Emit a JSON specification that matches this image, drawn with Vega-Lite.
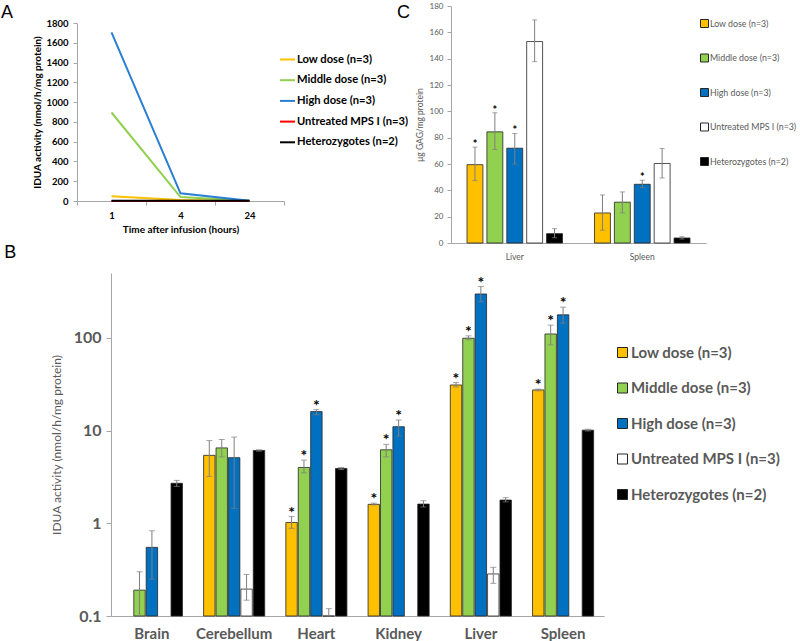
{
  "$schema": "https://vega.github.io/schema/vega-lite/v6.json",
  "padding": {"left": 0, "top": 2, "right": 0, "bottom": 0},
  "background": "white",
  "config": {
    "view": {"stroke": null},
    "axis": {"grid": false, "domainColor": "#A6A6A6", "tickColor": "#A6A6A6", "labelFont": "Lato", "titleFont": "Lato", "labelOverlap": false},
    "legend": {"labelFont": "Lato"},
    "title": {"font": "Liberation Sans", "fontWeight": "normal", "color": "black"}
  },
  "spacing": -17,
  "resolve": {"scale": {"color": "independent", "x": "independent", "y": "independent", "xOffset": "independent"}, "axis": {"x": "independent", "y": "independent"}, "legend": {"color": "independent"}},
  "vconcat": [
    {
      "spacing": -12,
      "resolve": {"scale": {"color": "independent", "x": "independent", "y": "independent", "xOffset": "independent"}, "axis": {"x": "independent", "y": "independent"}, "legend": {"color": "independent"}},
      "hconcat": [
        {
          "width": 207, "height": 195,
          "title": {"text": "A", "orient": "left", "anchor": "end", "frame": "group", "angle": 0, "align": "right", "baseline": "alphabetic", "dy": 12, "offset": 8, "fontSize": 18},
          "data": {"values": [
            {"time": 1, "group": "Low dose (n=3)", "value": 47},
            {"time": 4, "group": "Low dose (n=3)", "value": 10},
            {"time": 24, "group": "Low dose (n=3)", "value": 1},
            {"time": 1, "group": "Middle dose (n=3)", "value": 895},
            {"time": 4, "group": "Middle dose (n=3)", "value": 40},
            {"time": 24, "group": "Middle dose (n=3)", "value": 2},
            {"time": 1, "group": "High dose (n=3)", "value": 1705},
            {"time": 4, "group": "High dose (n=3)", "value": 78},
            {"time": 24, "group": "High dose (n=3)", "value": 2},
            {"time": 1, "group": "Untreated MPS I (n=3)", "value": 0},
            {"time": 4, "group": "Untreated MPS I (n=3)", "value": 0},
            {"time": 24, "group": "Untreated MPS I (n=3)", "value": 0},
            {"time": 1, "group": "Heterozygotes (n=2)", "value": 3},
            {"time": 4, "group": "Heterozygotes (n=2)", "value": 3},
            {"time": 24, "group": "Heterozygotes (n=2)", "value": 3}
          ]},
          "mark": {"type": "line", "strokeWidth": 2},
          "encoding": {
            "x": {"field": "time", "type": "ordinal", "bandPosition": 0.5, "scale": {"type": "band", "paddingInner": 0, "paddingOuter": 0},
              "axis": {"title": "Time after infusion (hours)", "labelAngle": 0, "labelFontWeight": "bold", "labelFontSize": 9.5, "labelColor": "black", "titleFontSize": 10, "titleFontWeight": "bold", "titleColor": "black", "tickBand": "extent", "tickSize": 4, "labelPadding": 5, "titlePadding": 5}},
            "y": {"field": "value", "type": "quantitative", "scale": {"domain": [0, 1800], "range": [195, 17]},
              "axis": {"values": [0, 200, 400, 600, 800, 1000, 1200, 1400, 1600, 1800], "format": "d", "labelOverlap": false, "title": "IDUA activity (nmol/h/mg protein)", "labelFontWeight": "bold", "labelFontSize": 9.5, "labelColor": "black", "titleFontSize": 10, "titleFontWeight": "bold", "titleColor": "black", "tickSize": 4, "labelPadding": 5, "titlePadding": 3}},
            "color": {"field": "group", "type": "nominal",
              "scale": {"domain": ["Low dose (n=3)", "Middle dose (n=3)", "High dose (n=3)", "Untreated MPS I (n=3)", "Heterozygotes (n=2)"], "range": ["#FFC000", "#92D050", "#2A7FD4", "#FF0000", "#000000"]},
              "legend": {"title": null, "orient": "none", "legendX": 202, "legendY": 45, "symbolType": "stroke", "symbolSize": 225, "symbolStrokeWidth": 2, "labelFontSize": 11.2, "labelFontWeight": "bold", "labelColor": "black", "rowPadding": 6.7, "labelOffset": 1, "padding": 0}}
          }
        },
        {
          "width": 255, "height": 237,
          "title": {"text": "C", "orient": "left", "anchor": "end", "frame": "group", "angle": 0, "align": "right", "baseline": "alphabetic", "dy": 12, "offset": -8, "fontSize": 18},
          "data": {"values": [
            {"organ": "Liver", "group": "Low dose (n=3)", "value": 59.5, "lo": 47.4, "hi": 72.8, "star": "*"},
            {"organ": "Liver", "group": "Middle dose (n=3)", "value": 84.4, "lo": 71, "hi": 98.9, "star": "*"},
            {"organ": "Liver", "group": "High dose (n=3)", "value": 72, "lo": 60, "hi": 83.2, "star": "*"},
            {"organ": "Liver", "group": "Untreated MPS I (n=3)", "value": 153, "lo": 137.7, "hi": 169.4, "star": ""},
            {"organ": "Liver", "group": "Heterozygotes (n=2)", "value": 7.1, "lo": 4, "hi": 10.9, "star": ""},
            {"organ": "Spleen", "group": "Low dose (n=3)", "value": 22.8, "lo": 9.7, "hi": 36.5, "star": ""},
            {"organ": "Spleen", "group": "Middle dose (n=3)", "value": 31, "lo": 22.8, "hi": 38.8, "star": ""},
            {"organ": "Spleen", "group": "High dose (n=3)", "value": 44.6, "lo": 42.1, "hi": 47.7, "star": "*"},
            {"organ": "Spleen", "group": "Untreated MPS I (n=3)", "value": 60.4, "lo": 49.4, "hi": 71.8, "star": ""},
            {"organ": "Spleen", "group": "Heterozygotes (n=2)", "value": 3.8, "lo": 3, "hi": 4.8, "star": ""}
          ]},
          "encoding": {
            "x": {"field": "organ", "type": "nominal", "sort": ["Liver", "Spleen"], "scale": {"paddingInner": 0.22, "paddingOuter": 0.11},
              "axis": {"title": null, "labelAngle": 0, "ticks": false, "labelFontSize": 8.5, "labelColor": "#595959", "labelPadding": 9}},
            "xOffset": {"field": "group", "type": "nominal", "sort": ["Low dose (n=3)", "Middle dose (n=3)", "High dose (n=3)", "Untreated MPS I (n=3)", "Heterozygotes (n=2)"], "scale": {"paddingInner": 0.2, "paddingOuter": 0.1}}
          },
          "layer": [
            {
              "mark": {"type": "bar", "stroke": "#262626", "strokeWidth": 0.8},
              "encoding": {
                "y": {"field": "value", "type": "quantitative", "title": "μg GAG/mg protein", "scale": {"domain": [0, 180], "nice": false},
                  "axis": {"values": [0, 20, 40, 60, 80, 100, 120, 140, 160, 180], "labelOverlap": false, "labelFontSize": 8, "labelColor": "#595959", "titleFontSize": 8.5, "titleFontWeight": "normal", "titleColor": "#595959", "tickSize": 4, "labelPadding": 4, "titlePadding": 5}},
                "color": {"field": "group", "type": "nominal",
                  "scale": {"domain": ["Low dose (n=3)", "Middle dose (n=3)", "High dose (n=3)", "Untreated MPS I (n=3)", "Heterozygotes (n=2)"], "range": ["#FFC000", "#92D050", "#0070C0", "#FFFFFF", "#000000"]},
                  "legend": {"title": null, "orient": "none", "legendX": 249, "legendY": 13, "symbolType": "square", "symbolSize": 64, "symbolStrokeColor": "#262626", "symbolStrokeWidth": 1, "symbolOpacity": 1, "labelFontSize": 8.8, "labelColor": "#595959", "rowPadding": 21.5, "labelOffset": 1, "padding": 0}}
              }
            },
            {
              "mark": {"type": "rule", "color": "#7F7F7F", "strokeWidth": 1},
              "encoding": {
                "y": {"field": "lo", "type": "quantitative", "title": "μg GAG/mg protein", "scale": {"domain": [0, 180], "nice": false},
                  "axis": {"values": [0, 20, 40, 60, 80, 100, 120, 140, 160, 180], "labelOverlap": false, "labelFontSize": 8, "labelColor": "#595959", "titleFontSize": 8.5, "titleFontWeight": "normal", "titleColor": "#595959", "tickSize": 4, "labelPadding": 4, "titlePadding": 5}},
                "y2": {"field": "hi"}}
            },
            {
              "mark": {"type": "tick", "color": "#7F7F7F", "size": 5, "thickness": 1},
              "encoding": {
                "y": {"field": "hi", "type": "quantitative", "title": "μg GAG/mg protein", "scale": {"domain": [0, 180], "nice": false},
                  "axis": {"values": [0, 20, 40, 60, 80, 100, 120, 140, 160, 180], "labelOverlap": false, "labelFontSize": 8, "labelColor": "#595959", "titleFontSize": 8.5, "titleFontWeight": "normal", "titleColor": "#595959", "tickSize": 4, "labelPadding": 4, "titlePadding": 5}}}
            },
            {
              "mark": {"type": "tick", "color": "#7F7F7F", "size": 5, "thickness": 1},
              "encoding": {
                "y": {"field": "lo", "type": "quantitative", "title": "μg GAG/mg protein", "scale": {"domain": [0, 180], "nice": false},
                  "axis": {"values": [0, 20, 40, 60, 80, 100, 120, 140, 160, 180], "labelOverlap": false, "labelFontSize": 8, "labelColor": "#595959", "titleFontSize": 8.5, "titleFontWeight": "normal", "titleColor": "#595959", "tickSize": 4, "labelPadding": 4, "titlePadding": 5}}}
            },
            {
              "mark": {"type": "text", "fontSize": 11, "fontWeight": "bold", "baseline": "alphabetic", "dy": 1, "color": "black", "font": "Lato"},
              "encoding": {
                "y": {"field": "hi", "type": "quantitative", "title": "μg GAG/mg protein", "scale": {"domain": [0, 180], "nice": false},
                  "axis": {"values": [0, 20, 40, 60, 80, 100, 120, 140, 160, 180], "labelOverlap": false, "labelFontSize": 8, "labelColor": "#595959", "titleFontSize": 8.5, "titleFontWeight": "normal", "titleColor": "#595959", "tickSize": 4, "labelPadding": 4, "titlePadding": 5}},
                "text": {"field": "star"}}
            }
          ]
        }
      ]
    },
    {
      "width": 527, "height": 343,
      "title": {"text": "B", "orient": "left", "anchor": "end", "frame": "group", "angle": 0, "align": "right", "baseline": "alphabetic", "dy": -15, "offset": 22, "fontSize": 18},
      "data": {"values": [
        {"organ": "Brain", "group": "Middle dose (n=3)", "value": 0.19, "lo": 0.1, "hi": 0.3, "star": ""},
        {"organ": "Brain", "group": "High dose (n=3)", "value": 0.55, "lo": 0.25, "hi": 0.83, "star": ""},
        {"organ": "Brain", "group": "Heterozygotes (n=2)", "value": 2.7, "lo": 2.5, "hi": 2.9, "star": ""},
        {"organ": "Cerebellum", "group": "Low dose (n=3)", "value": 5.4, "lo": 3.2, "hi": 7.8, "star": ""},
        {"organ": "Cerebellum", "group": "Middle dose (n=3)", "value": 6.5, "lo": 5.2, "hi": 8.0, "star": ""},
        {"organ": "Cerebellum", "group": "High dose (n=3)", "value": 5.1, "lo": 1.45, "hi": 8.5, "star": ""},
        {"organ": "Cerebellum", "group": "Untreated MPS I (n=3)", "value": 0.195, "lo": 0.148, "hi": 0.28, "star": ""},
        {"organ": "Cerebellum", "group": "Heterozygotes (n=2)", "value": 6.1, "lo": 6.0, "hi": 6.2, "star": ""},
        {"organ": "Heart", "group": "Low dose (n=3)", "value": 1.02, "lo": 0.88, "hi": 1.18, "star": "*"},
        {"organ": "Heart", "group": "Middle dose (n=3)", "value": 4.0, "lo": 3.5, "hi": 4.8, "star": "*"},
        {"organ": "Heart", "group": "High dose (n=3)", "value": 16, "lo": 14.8, "hi": 16.8, "star": "*"},
        {"organ": "Heart", "group": "Untreated MPS I (n=3)", "value": 0.1, "lo": 0.1, "hi": 0.12, "star": ""},
        {"organ": "Heart", "group": "Heterozygotes (n=2)", "value": 3.9, "lo": 3.8, "hi": 4.0, "star": ""},
        {"organ": "Kidney", "group": "Low dose (n=3)", "value": 1.6, "lo": 1.58, "hi": 1.65, "star": "*"},
        {"organ": "Kidney", "group": "Middle dose (n=3)", "value": 6.2, "lo": 5.2, "hi": 7.1, "star": "*"},
        {"organ": "Kidney", "group": "High dose (n=3)", "value": 11, "lo": 8.7, "hi": 13, "star": "*"},
        {"organ": "Kidney", "group": "Heterozygotes (n=2)", "value": 1.61, "lo": 1.5, "hi": 1.75, "star": ""},
        {"organ": "Liver", "group": "Low dose (n=3)", "value": 31, "lo": 29.5, "hi": 32.9, "star": "*"},
        {"organ": "Liver", "group": "Middle dose (n=3)", "value": 99, "lo": 95, "hi": 105, "star": "*"},
        {"organ": "Liver", "group": "High dose (n=3)", "value": 297, "lo": 245, "hi": 357, "star": "*"},
        {"organ": "Liver", "group": "Untreated MPS I (n=3)", "value": 0.284, "lo": 0.225, "hi": 0.335, "star": ""},
        {"organ": "Liver", "group": "Heterozygotes (n=2)", "value": 1.78, "lo": 1.7, "hi": 1.89, "star": ""},
        {"organ": "Spleen", "group": "Low dose (n=3)", "value": 27.4, "lo": 26.8, "hi": 28, "star": "*"},
        {"organ": "Spleen", "group": "Middle dose (n=3)", "value": 110, "lo": 84, "hi": 137, "star": "*"},
        {"organ": "Spleen", "group": "High dose (n=3)", "value": 177, "lo": 144, "hi": 214, "star": "*"},
        {"organ": "Spleen", "group": "Heterozygotes (n=2)", "value": 10.1, "lo": 9.9, "hi": 10.3, "star": ""}
      ]},
      "encoding": {
        "x": {"field": "organ", "type": "nominal", "sort": ["Brain", "Cerebellum", "Heart", "Kidney", "Liver", "Spleen"], "scale": {"range": [34, 527], "paddingInner": 0.245, "paddingOuter": 0.12},
          "axis": {"title": null, "labelAngle": 0, "ticks": false, "labelFontSize": 15, "labelFontWeight": "bold", "labelColor": "#595959", "labelPadding": 10}},
        "xOffset": {"field": "group", "type": "nominal", "scale": {"domain": ["Low dose (n=3)", "Middle dose (n=3)", "High dose (n=3)", "Untreated MPS I (n=3)", "Heterozygotes (n=2)"], "paddingInner": 0.08, "paddingOuter": 0.04}}
      },
      "layer": [
        {
          "mark": {"type": "bar", "stroke": "#262626", "strokeWidth": 0.8},
          "encoding": {
            "y": {"field": "value", "type": "quantitative", "title": "IDUA activity (nmol/h/mg protein)", "scale": {"type": "log", "domain": [0.1, 500], "nice": false},
              "axis": {"values": [0.1, 1, 10, 100], "format": "~g", "offset": -34, "labelFontSize": 16, "labelFontWeight": "bold", "labelColor": "#595959", "titleFontSize": 12, "titleFontWeight": "normal", "titleColor": "#595959", "tickSize": 5, "labelPadding": 5, "titlePadding": 10}},
            "y2": {"datum": 0.1},
            "color": {"field": "group", "type": "nominal",
              "scale": {"domain": ["Low dose (n=3)", "Middle dose (n=3)", "High dose (n=3)", "Untreated MPS I (n=3)", "Heterozygotes (n=2)"], "range": ["#FFC000", "#92D050", "#0070C0", "#FFFFFF", "#000000"]},
              "legend": {"title": null, "orient": "none", "legendX": 538, "legendY": 72, "symbolType": "square", "symbolSize": 100, "symbolStrokeColor": "#262626", "symbolStrokeWidth": 1, "symbolOpacity": 1, "labelFontSize": 15, "labelFontWeight": "bold", "labelColor": "#595959", "rowPadding": 19.5, "labelOffset": 1, "padding": 0}}
          }
        },
        {
          "mark": {"type": "rule", "color": "#7F7F7F", "strokeWidth": 1},
          "encoding": {
            "y": {"field": "lo", "type": "quantitative", "title": "IDUA activity (nmol/h/mg protein)", "scale": {"type": "log", "domain": [0.1, 500], "nice": false},
              "axis": {"values": [0.1, 1, 10, 100], "format": "~g", "offset": -34, "labelFontSize": 16, "labelFontWeight": "bold", "labelColor": "#595959", "titleFontSize": 12, "titleFontWeight": "normal", "titleColor": "#595959", "tickSize": 5, "labelPadding": 5, "titlePadding": 10}},
            "y2": {"field": "hi"}}
        },
        {
          "mark": {"type": "tick", "color": "#7F7F7F", "size": 6, "thickness": 1},
          "encoding": {
            "y": {"field": "hi", "type": "quantitative", "title": "IDUA activity (nmol/h/mg protein)", "scale": {"type": "log", "domain": [0.1, 500], "nice": false},
              "axis": {"values": [0.1, 1, 10, 100], "format": "~g", "offset": -34, "labelFontSize": 16, "labelFontWeight": "bold", "labelColor": "#595959", "titleFontSize": 12, "titleFontWeight": "normal", "titleColor": "#595959", "tickSize": 5, "labelPadding": 5, "titlePadding": 10}}}
        },
        {
          "mark": {"type": "tick", "color": "#7F7F7F", "size": 6, "thickness": 1},
          "encoding": {
            "y": {"field": "lo", "type": "quantitative", "title": "IDUA activity (nmol/h/mg protein)", "scale": {"type": "log", "domain": [0.1, 500], "nice": false},
              "axis": {"values": [0.1, 1, 10, 100], "format": "~g", "offset": -34, "labelFontSize": 16, "labelFontWeight": "bold", "labelColor": "#595959", "titleFontSize": 12, "titleFontWeight": "normal", "titleColor": "#595959", "tickSize": 5, "labelPadding": 5, "titlePadding": 10}}}
        },
        {
          "mark": {"type": "text", "fontSize": 16, "fontWeight": "bold", "baseline": "alphabetic", "dy": 1, "color": "black", "font": "Lato"},
          "encoding": {
            "y": {"field": "hi", "type": "quantitative", "title": "IDUA activity (nmol/h/mg protein)", "scale": {"type": "log", "domain": [0.1, 500], "nice": false},
              "axis": {"values": [0.1, 1, 10, 100], "format": "~g", "offset": -34, "labelFontSize": 16, "labelFontWeight": "bold", "labelColor": "#595959", "titleFontSize": 12, "titleFontWeight": "normal", "titleColor": "#595959", "tickSize": 5, "labelPadding": 5, "titlePadding": 10}},
            "text": {"field": "star"}}
        }
      ]
    }
  ]
}
